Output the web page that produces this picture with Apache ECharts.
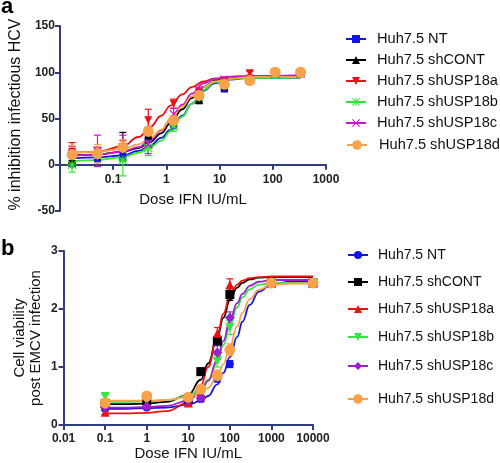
<!DOCTYPE html>
<html><head><meta charset="utf-8">
<script src="https://cdn.jsdelivr.net/npm/echarts@6/dist/echarts.min.js"></script>
<style>html,body{margin:0;padding:0;background:#fff}#c{width:500px;height:463px}</style>
</head><body><div id="c"></div>
<script>
// ---------- shared ----------
const groupNames = ['Huh7.5 NT','Huh7.5 shCONT','Huh7.5 shUSP18a','Huh7.5 shUSP18b','Huh7.5 shUSP18c','Huh7.5 shUSP18d'];

// ---------- panel a : % inhibition infectious HCV ----------
const xTicksA = ['0.1','1','10','100','1000'];
const dosesA = [0.0169,0.0508,0.152,0.457,1.37,4.12,12.3,37,111,333];
const a_NT_pts   = [1, 7, 9, 30, 44, 71, 82, 92, 99, 99];
const a_CONT_pts = [6, 10, 20, 32, 46, 70, 85, 92, 99, 99];
const a_18a_pts  = [14, 13, 18, 48, 66, 78, 90, 99, 99, 99];
const a_18b_pts  = [0, 10, 5, 18, 42, 73, 88, 92, 99, 99];
const a_18c_pts  = [12, 15, 19, 22, 55, 80, 92, 92, 99, 99];
const a_18d_pts  = [11, 12, 19, 36, 48, 75, 87, 91, 100, 100];
const a_NT_err   = [3, 4, 5, 10, 5, 4, 3, 2, 2, 2];
const a_CONT_err = [5, 5, 15, 8, 5, 4, 3, 2, 2, 2];
const a_18a_err  = [10, 6, 8, 12, 5, 4, 3, 2, 2, 2];
const a_18b_err  = [8, 6, 17, 8, 6, 4, 3, 2, 2, 2];
const a_18c_err  = [8, 17, 13, 10, 6, 4, 3, 2, 2, 2];
const a_18d_err  = [10, 10, 8, 5, 5, 4, 3, 2, 2, 2];
// fitted curves
const curveDosesA = [0.0169,0.05,0.15,0.3,0.5,0.8,1.2,2,3,5,8,15,40,333];
const a_NT_fit   = [7, 8, 10, 15, 21, 29, 38, 53, 66, 80, 88, 92, 94, 94];
const a_CONT_fit = [10, 11, 14, 18, 25, 34, 45, 60, 72, 84, 91, 94, 95, 95];
const a_18a_fit  = [13, 14, 20, 30, 41, 53, 64, 76, 84, 90, 93, 95, 96, 96];
const a_18b_fit  = [4, 5, 8, 13, 19, 26, 36, 52, 66, 81, 89, 93, 94, 94];
const a_18c_fit  = [10, 11, 14, 19, 27, 37, 49, 65, 77, 88, 93, 95, 96, 97];
const a_18d_fit  = [13, 14, 17, 22, 29, 38, 49, 63, 74, 84, 90, 93, 95, 95];

// ---------- panel b : cell viability post EMCV infection ----------
const xTicksB = ['0.01','0.1','1','10','100','1000','10000'];
const dosesB = [0.1, 1, 10, 20, 50, 100, 1000, 10000];
const b_NT_pts   = [0.28, 0.30, 0.40, 0.45, 0.80, 1.05, 2.45, 2.45];
const b_CONT_pts = [0.37, 0.42, 0.45, 0.92, 1.45, 2.25, 2.45, 2.45];
const b_18a_pts  = [0.22, 0.35, 0.38, 0.55, 1.58, 2.42, 2.45, 2.45];
const b_18b_pts  = [0.49, 0.42, 0.45, 0.55, 1.10, 1.68, 2.45, 2.45];
const b_18c_pts  = [0.30, 0.32, 0.42, 0.46, 1.25, 1.85, 2.45, 2.45];
const b_18d_pts  = [0.38, 0.50, 0.48, 0.62, 0.85, 1.30, 2.45, 2.45];
const b_NT_err   = [0.03,0.03,0.04,0.05,0.06,0.06,0.02,0.02];
const b_CONT_err = [0.03,0.03,0.04,0.06,0.08,0.10,0.02,0.02];
const b_18a_err  = [0.03,0.03,0.04,0.05,0.10,0.10,0.02,0.02];
const b_18b_err  = [0.04,0.03,0.04,0.05,0.10,0.12,0.02,0.02];
const b_18c_err  = [0.03,0.03,0.04,0.05,0.12,0.10,0.02,0.02];
const b_18d_err  = [0.04,0.04,0.04,0.06,0.10,0.10,0.02,0.02];
const curveDosesB = [0.1,0.3,1,3,10,20,30,50,70,100,150,200,300,500,1000,3000,10000];
const b_NT_fit   = [0.28,0.28,0.29,0.30,0.35,0.42,0.50,0.70,0.90,1.17,1.52,1.78,2.07,2.30,2.43,2.47,2.48];
const b_CONT_fit = [0.36,0.36,0.37,0.40,0.52,0.78,1.06,1.52,1.85,2.15,2.37,2.45,2.51,2.54,2.55,2.55,2.55];
const b_18a_fit  = [0.20,0.20,0.21,0.24,0.38,0.68,1.00,1.55,1.92,2.22,2.42,2.49,2.53,2.55,2.56,2.56,2.56];
const b_18b_fit  = [0.40,0.40,0.41,0.43,0.50,0.62,0.78,1.08,1.38,1.72,2.03,2.20,2.34,2.42,2.45,2.45,2.45];
const b_18c_fit  = [0.30,0.30,0.31,0.33,0.42,0.57,0.76,1.13,1.45,1.80,2.10,2.26,2.40,2.47,2.50,2.50,2.50];
const b_18d_fit  = [0.42,0.42,0.42,0.43,0.48,0.55,0.64,0.84,1.05,1.35,1.70,1.93,2.17,2.33,2.42,2.44,2.44];

// ---------- styling ----------
const AXIS = '#2f3d7c';
const STAR = 'path://M4.4 0h1.2v10h-1.2z M0 4.4h10v1.2h-10z M0.9 0L10 9.1L9.1 10L0 0.9z M9.1 0L10 0.9L0.9 10L0 9.1z';
const XMARK = 'path://M0.9 0L10 9.1L9.1 10L0 0.9z M9.1 0L10 0.9L0.9 10L0 9.1z';
const panelA = {
  prefix:'a:', xi:0, doses:dosesA, cdoses:curveDosesA,
  pts:[a_NT_pts,a_CONT_pts,a_18a_pts,a_18b_pts,a_18c_pts,a_18d_pts],
  err:[a_NT_err,a_CONT_err,a_18a_err,a_18b_err,a_18c_err,a_18d_err],
  fit:[a_NT_fit,a_CONT_fit,a_18a_fit,a_18b_fit,a_18c_fit,a_18d_fit],
  colors:['#1414e0','#000000','#ee1111','#33e633','#cc14cc','#f9a24a'],
  symbols:['rect','triangle','path://M0 0L10 0L5 10z',STAR,XMARK,'circle'],
  sizes:[7,8,8,9,9,11]
};
const panelB = {
  prefix:'b:', xi:1, doses:dosesB, cdoses:curveDosesB,
  pts:[b_NT_pts,b_CONT_pts,b_18a_pts,b_18b_pts,b_18c_pts,b_18d_pts],
  err:[b_NT_err,b_CONT_err,b_18a_err,b_18b_err,b_18c_err,b_18d_err],
  fit:[b_NT_fit,b_CONT_fit,b_18a_fit,b_18b_fit,b_18c_fit,b_18d_fit],
  colors:['#1414e6','#000000','#ee1111','#33e644','#9a22cc','#f9a24a'],
  symbols:['circle','rect','triangle','path://M0 0L10 0L5 10z','diamond','circle'],
  sizes:[8,9,9,9,10,11]
};

function errRender(params, api) {
  const x = api.value(0), y = api.value(1), e = api.value(2);
  const t = api.coord([x, y + e]), b = api.coord([x, y - e]);
  const hw = 3.5;
  const style = { stroke: api.visual('color'), lineWidth: 1.2 };
  return { type:'group', children:[
    { type:'line', shape:{x1:t[0],y1:t[1],x2:b[0],y2:b[1]}, style },
    { type:'line', shape:{x1:t[0]-hw,y1:t[1],x2:t[0]+hw,y2:t[1]}, style },
    { type:'line', shape:{x1:b[0]-hw,y1:b[1],x2:b[0]+hw,y2:b[1]}, style }
  ]};
}

const series = [];
[panelA, panelB].forEach(P => {
  for (let i = 0; i < 6; i++) {
    const nm = P.prefix + groupNames[i];
    const col = P.colors[i];
    series.push({
      type:'line', name:nm, xAxisIndex:P.xi, yAxisIndex:P.xi,
      data:P.cdoses.map((d,k)=>[d,P.fit[i][k]]),
      showSymbol:false, symbol:P.symbols[i], smooth:0.45, smoothMonotone:'x',
      lineStyle:{width:1.8,color:col}, itemStyle:{color:col}, z:2, silent:true
    });
    series.push({
      type:'custom', name:nm+' err', xAxisIndex:P.xi, yAxisIndex:P.xi,
      data:P.doses.map((d,k)=>[d,P.pts[i][k],P.err[i][k]]),
      encode:{x:0,y:1}, renderItem:errRender, itemStyle:{color:col}, z:3, silent:true
    });
    series.push({
      type:'scatter', name:nm+' pts', xAxisIndex:P.xi, yAxisIndex:P.xi,
      data:P.doses.map((d,k)=>[d,P.pts[i][k]]),
      symbol:P.symbols[i], symbolSize:P.sizes[i], itemStyle:{color:col,opacity:1}, z:4, silent:true
    });
  }
});

// legends, one per row
const legends = [];
const rowsA = [39, 60, 81, 102, 123, 145];
const rowsB = [255, 282, 309, 337, 366, 399];
for (let i = 0; i < 6; i++) {
  legends.push({
    data:['a:' + groupNames[i]], left: i===5 ? 346 : 345, top: rowsA[i] - 8, padding:0,
    itemWidth:20, itemHeight: i===5 ? 12 : 10, selectedMode:false,
    formatter: n => n.slice(2),
    textStyle:{fontFamily:'Liberation Sans, Arial, sans-serif', fontSize:14.6, color:'#111', lineHeight:16, padding:[0,0,0, i===5 ? 7 : 6]}
  });
  legends.push({
    data:['b:' + groupNames[i]], left: 347, top: rowsB[i] - 8, padding:0,
    itemWidth:20, itemHeight: i===5 ? 12 : 10, selectedMode:false,
    formatter: n => n.slice(2),
    textStyle:{fontFamily:'Liberation Sans, Arial, sans-serif', fontSize:14, color:'#111', lineHeight:16, padding:[0,0,0,5]}
  });
}

function tickFmt(list) {
  return v => { const s = list.find(t => Math.abs(Number(t) - v) < 1e-9 * Math.max(1, v)); return s === undefined ? '' : s; };
}
const lbl = {fontFamily:'Liberation Sans, Arial, sans-serif', fontWeight:'bold', fontSize:12, color:'#222'};
const nameStyle = {fontFamily:'Liberation Sans, Arial, sans-serif', fontSize:15, color:'#111'};

const option = {
  animation:false,
  backgroundColor:'#fff',
  legend: legends,
  grid:[
    {left:49, right:174, top:26, bottom:252},
    {left:52, right:187, top:251, bottom:38}
  ],
  xAxis:[
    {type:'log', logBase:10, min:0.01, max:1000, splitNumber:5, gridIndex:0,
     offset:-46.25,
     axisLine:{onZero:false, lineStyle:{color:AXIS,width:2}},
     axisTick:{length:5, lineStyle:{color:AXIS,width:2}},
     minorTick:{show:false}, splitLine:{show:false},
     axisLabel:{...lbl, margin:9, formatter:tickFmt(xTicksA), showMinLabel:false},
     name:'Dose IFN IU/mL', nameLocation:'middle', nameGap:28, nameTextStyle:nameStyle},
    {type:'log', logBase:10, min:0.01, max:10000, splitNumber:6, gridIndex:1,
     axisLine:{onZero:false, lineStyle:{color:AXIS,width:2}},
     axisTick:{length:5, lineStyle:{color:AXIS,width:2}},
     minorTick:{show:false}, splitLine:{show:false},
     axisLabel:{...lbl, margin:8, formatter:tickFmt(xTicksB)},
     name:'Dose IFN IU/mL', nameLocation:'middle', nameGap:21, nameTextStyle:nameStyle}
  ],
  yAxis:[
    {type:'value', min:-50, max:150, interval:50, gridIndex:0,
     axisLine:{show:true, lineStyle:{color:AXIS,width:2}},
     axisTick:{show:true, length:5, lineStyle:{color:AXIS,width:2}},
     splitLine:{show:false}, axisLabel:{...lbl, margin:5},
     name:'% inhibition infectious HCV', nameLocation:'middle', nameGap:33,
     nameTextStyle:{...nameStyle, fontSize:16, padding:[0,0,0,8]}},
    {type:'value', min:0, max:3, interval:1, gridIndex:1,
     axisLine:{show:true, lineStyle:{color:AXIS,width:2}},
     axisTick:{show:true, length:5, lineStyle:{color:AXIS,width:2}},
     splitLine:{show:false}, axisLabel:{...lbl, margin:6},
     name:'Cell viability\npost EMCV infection', nameLocation:'middle', nameGap:20,
     nameTextStyle:{...nameStyle, lineHeight:16}}
  ],
  graphic:[
    {type:'text', left:1, top:-4, style:{text:'a', font:'bold 22px Liberation Sans, Arial, sans-serif', fill:'#000'}},
    {type:'text', left:1, top:238, style:{text:'b', font:'bold 22px Liberation Sans, Arial, sans-serif', fill:'#000'}}
  ],
  series: series
};
const chart = echarts.init(document.getElementById('c'), null, {renderer:'canvas'});
chart.setOption(option);
</script>
</body></html>
